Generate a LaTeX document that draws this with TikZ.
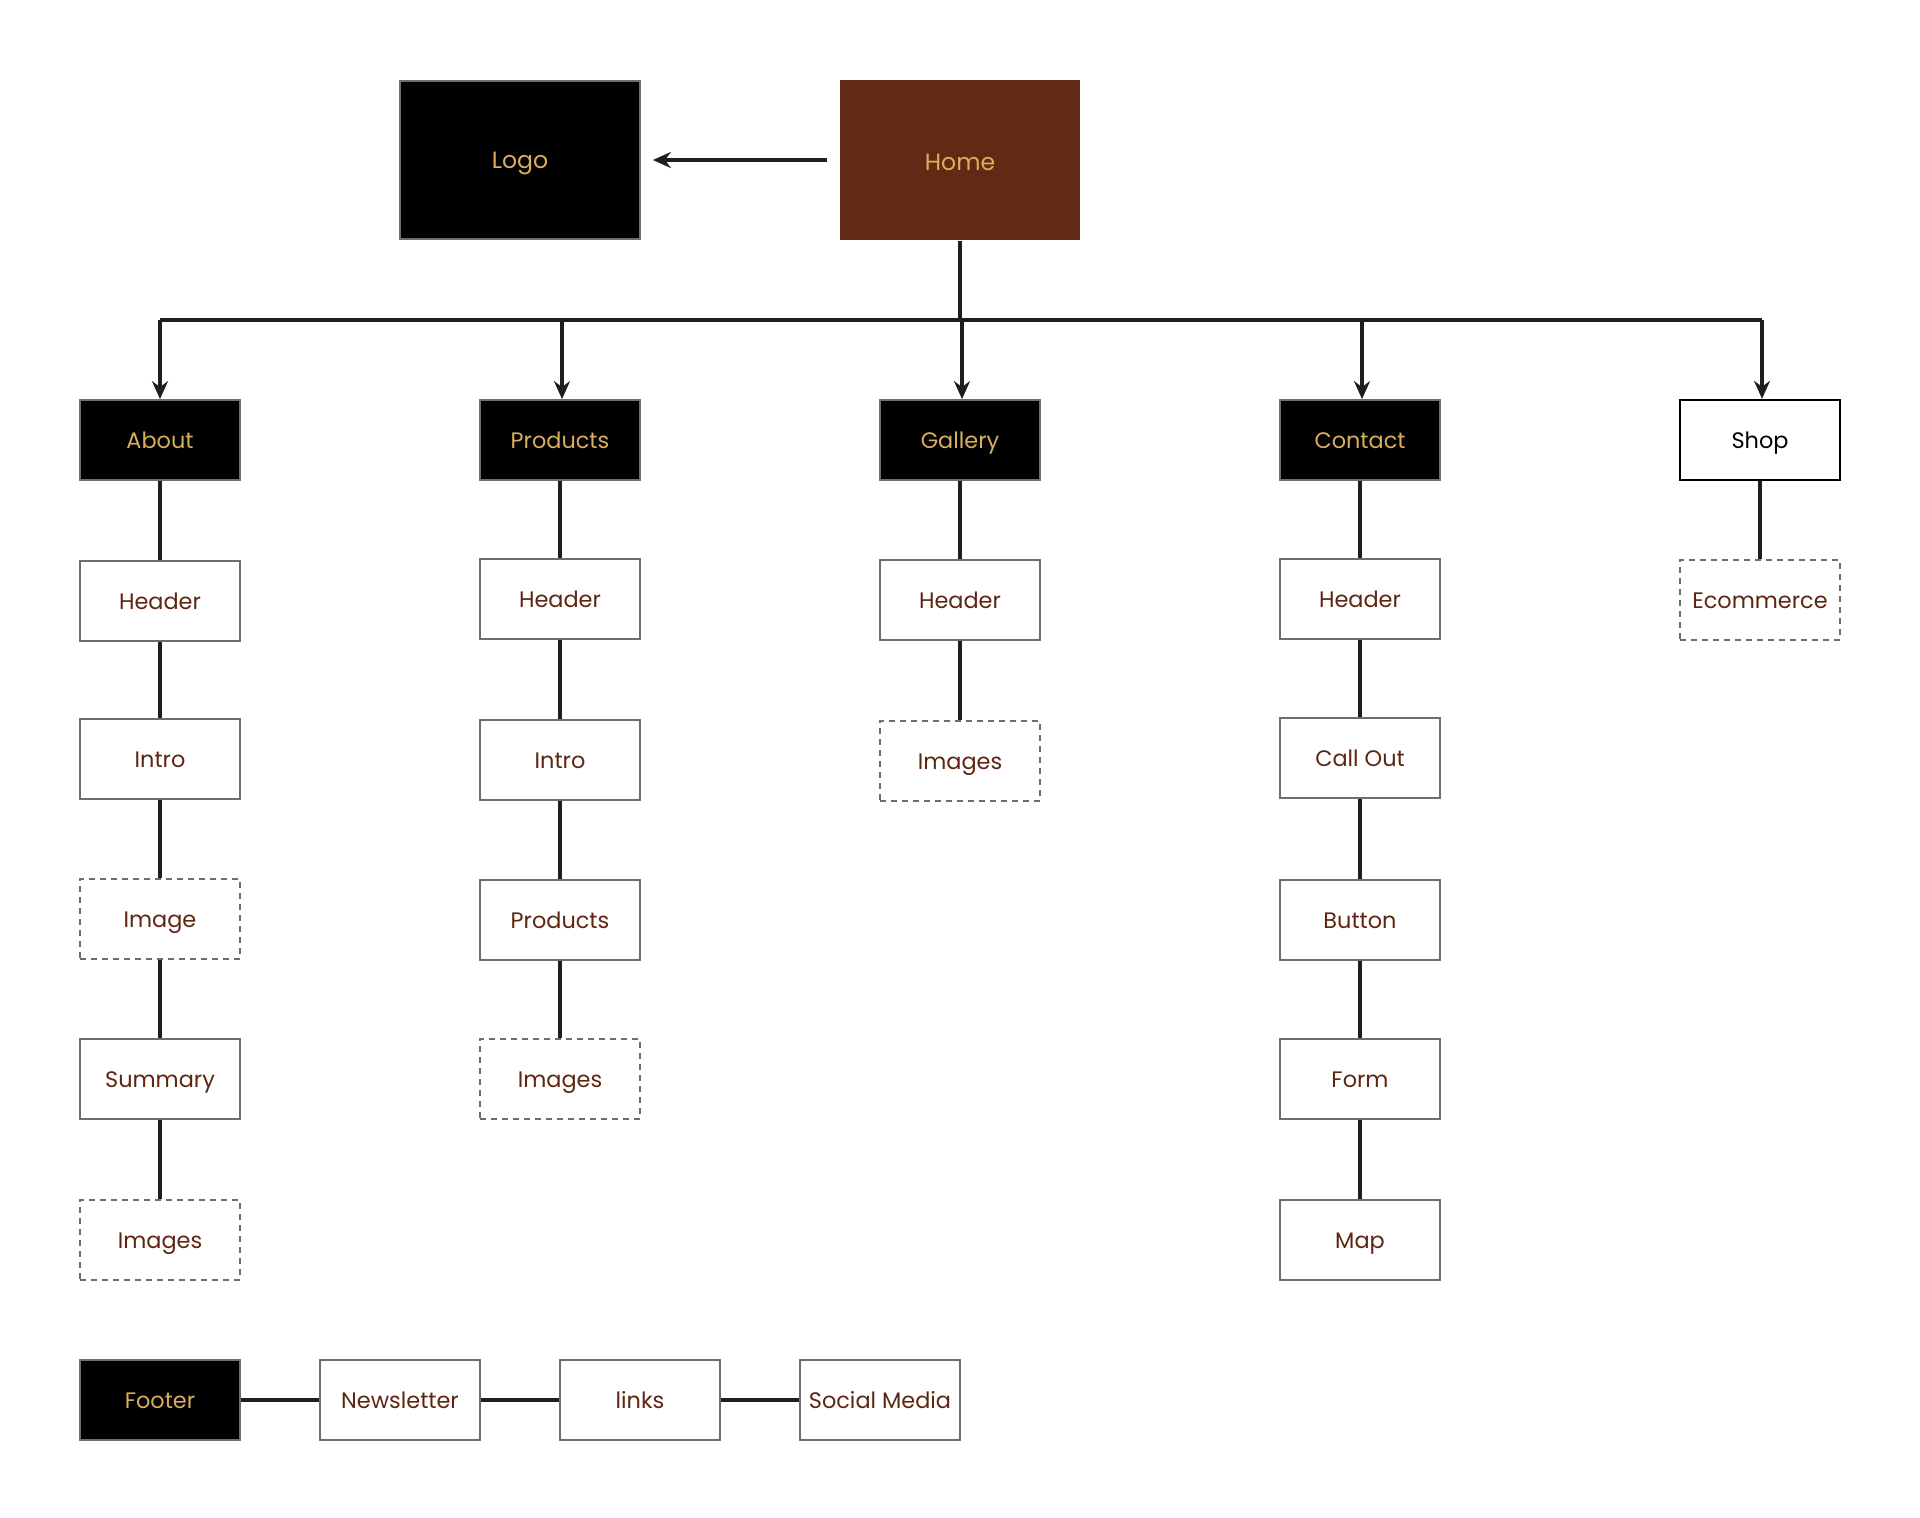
\documentclass[tikz,border=0pt]{standalone}
\usepackage{fontspec}
\setmainfont{Poppins}
\usetikzlibrary{arrows.meta}
\definecolor{boxgray}{HTML}{6E6E6E}
\definecolor{browntext}{HTML}{5E2610}
\definecolor{goldtext}{HTML}{D9AE5C}
\definecolor{homebrown}{HTML}{612A14}
\definecolor{linecol}{HTML}{1E1E1E}
\begin{document}
\begin{tikzpicture}[x=0.5pt,y=-0.5pt,
  box/.style={draw=boxgray, line width=0.9pt, minimum width=80pt, minimum height=40pt, inner sep=0pt,
    font=\fontsize{11.2}{13}\selectfont, text=browntext, fill=white, text height=0.85em, text depth=0.05em},
  darkbox/.style={box, fill=black, text=goldtext},
  dbox/.style={box, dash pattern=on 3pt off 2.5pt},
  conn/.style={line width=1.6pt, draw=linecol},
  arr/.style={conn, -{Stealth[length=9pt,width=8pt,inset=3pt]}}]
\useasboundingbox (0,0) rectangle (1920,1517);

% top
\node[darkbox, minimum width=120pt, minimum height=79pt, font=\fontsize{11.8}{14}\selectfont] (logo) at (520,160) {Logo};
\node[box, draw=none, fill=homebrown, text=goldtext, minimum width=120pt, minimum height=80pt, font=\fontsize{11.8}{14}\selectfont] (home) at (960,160) {\raisebox{-1pt}{Home}};

% level 1
\node[darkbox] (about) at (160,440) {About};
\node[darkbox] (products) at (560,440) {Products};
\node[darkbox] (gallery) at (960,440) {Gallery};
\node[darkbox] (contact) at (1360,440) {Contact};
\node[box, draw=black, line width=1.2pt, text=black] (shop) at (1760,440) {Shop};

% About column
\node[box] (a1) at (160,601) {Header};
\node[box] (a2) at (160,759) {Intro};
\node[dbox] (a3) at (160,919) {Image};
\node[box] (a4) at (160,1079) {Summary};
\node[dbox] (a5) at (160,1240) {Images};

% Products column
\node[box] (p1) at (560,599) {Header};
\node[box] (p2) at (560,760) {Intro};
\node[box] (p3) at (560,920) {Products};
\node[dbox] (p4) at (560,1079) {Images};

% Gallery column
\node[box] (g1) at (960,600) {Header};
\node[dbox] (g2) at (960,761) {Images};

% Contact column
\node[box] (c1) at (1360,599) {Header};
\node[box] (c2) at (1360,758) {Call Out};
\node[box] (c3) at (1360,920) {Button};
\node[box] (c4) at (1360,1079) {Form};
\node[box] (c5) at (1360,1240) {Map};

% Shop column
\node[dbox] (s1) at (1760,600) {Ecommerce};

% footer row
\node[darkbox] (footer) at (160,1400) {Footer};
\node[box] (f1) at (400,1400) {Newsletter};
\node[box] (f2) at (640,1400) {links};
\node[box] (f3) at (880,1400) {Social Media};

% bus coordinates
\coordinate (bh) at (960,320);
\coordinate (b1) at (160,320);
\coordinate (b2) at (562,320);
\coordinate (b3) at (962,320);
\coordinate (b4) at (1362,320);
\coordinate (b5) at (1762,320);

% connectors
\draw[arr, shorten <=6pt, shorten >=6pt] (home.west) -- (logo.east);
\draw[conn] (home.south) -- (bh);
\draw[conn] (b1) -- (b5);
\draw[arr] (b1) -- (b1 |- about.north);
\draw[arr] (b2) -- (b2 |- products.north);
\draw[arr] (b3) -- (b3 |- gallery.north);
\draw[arr] (b4) -- (b4 |- contact.north);
\draw[arr] (b5) -- (b5 |- shop.north);

\draw[conn] (about) -- (a1);
\draw[conn] (a1) -- (a2);
\draw[conn] (a2) -- (a3);
\draw[conn] (a3) -- (a4);
\draw[conn] (a4) -- (a5);

\draw[conn] (products) -- (p1);
\draw[conn] (p1) -- (p2);
\draw[conn] (p2) -- (p3);
\draw[conn] (p3) -- (p4);

\draw[conn] (gallery) -- (g1);
\draw[conn] (g1) -- (g2);

\draw[conn] (contact) -- (c1);
\draw[conn] (c1) -- (c2);
\draw[conn] (c2) -- (c3);
\draw[conn] (c3) -- (c4);
\draw[conn] (c4) -- (c5);

\draw[conn] (shop) -- (s1);

\draw[conn] (footer) -- (f1);
\draw[conn] (f1) -- (f2);
\draw[conn] (f2) -- (f3);
\end{tikzpicture}
\end{document}
